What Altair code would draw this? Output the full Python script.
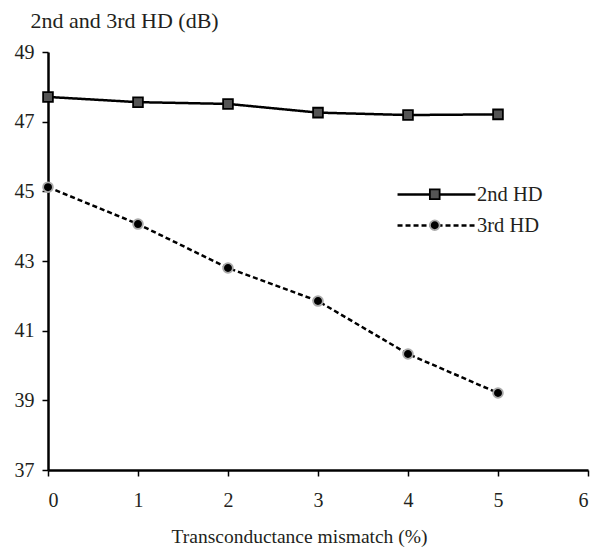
import altair as alt
import pandas as pd

x_vals = [0, 1, 2, 3, 4, 5]
hd2 = [47.71, 47.56, 47.51, 47.26, 47.19, 47.21]
hd3 = [45.12, 44.06, 42.80, 41.85, 40.33, 39.21]
series = ["2nd HD", "3rd HD"]
x_ticks = [0, 1, 2, 3, 4, 5, 6]
y_ticks = [37, 39, 41, 43, 45, 47, 49]

rows = []
for xv, a, b in zip(x_vals, hd2, hd3):
    rows.append({"x": xv, "y": a, "s": series[0], "s2": series[0]})
    rows.append({"x": xv, "y": b, "s": series[1], "s2": series[1]})
df = pd.DataFrame(rows)

FONT = "Liberation Serif, DejaVu Serif, serif"
TXT = "#231f20"

xenc = alt.X("x:Q", scale=alt.Scale(domain=[0, 6], nice=False),
             axis=alt.Axis(title="Transconductance mismatch (%)", values=x_ticks,
                           format="d", grid=False, tickSize=6, labelPadding=14, titlePadding=17,
                           titleX=251,
                           labelFont=FONT, titleFont=FONT, labelFontSize=20, titleFontSize=19.5,
                           labelColor=TXT, titleColor=TXT, titleFontWeight="normal",
                           domainColor="black", domainWidth=2.5, tickColor="black", tickWidth=1.5))
yenc = alt.Y("y:Q", scale=alt.Scale(domain=[37, 49], nice=False, zero=False),
             axis=alt.Axis(title="2nd and 3rd HD (dB)", values=y_ticks,
                           grid=False, tickSize=6, labelPadding=8, titleAngle=0,
                           titleAlign="left", titleAnchor="start", titleX=-18, titleY=-25,
                           titleBaseline="alphabetic",
                           labelFont=FONT, titleFont=FONT, labelFontSize=20, titleFontSize=22,
                           labelColor=TXT, titleColor=TXT, titleFontWeight="normal",
                           domainColor="black", domainWidth=2.5, tickColor="black", tickWidth=1.5))

LX, LY = 378, 132

legend_line = alt.Legend(title=None, orient="none", legendX=LX, legendY=LY, padding=0,
                         symbolSize=324, labelFontSize=20.5, labelFont=FONT, rowPadding=10,
                         labelOffset=30, symbolType="M-4.33,0H4.33", symbolStrokeWidth=2.5,
                         symbolStrokeColor="black", labelColor=TXT)

legend_pts = alt.Legend(title=None, orient="none", legendX=LX - 1.5, legendY=LY, padding=0,
                        symbolSize=95, labelFontSize=20.5, labelFont=FONT, rowPadding=10,
                        symbolStrokeWidth=1.8, labelExpr="''")

line = alt.Chart(df).mark_line(color="black", strokeWidth=2.5).encode(
    x=xenc, y=yenc,
    strokeDash=alt.StrokeDash("s:N", scale=alt.Scale(domain=series, range=[[1, 0], [5, 3]]),
                              legend=legend_line),
)

pts = alt.Chart(df).mark_point(filled=True, size=95, strokeWidth=1.8, opacity=1).encode(
    x="x:Q", y="y:Q",
    shape=alt.Shape("s2:N", scale=alt.Scale(range=["square", "circle"]), legend=legend_pts),
    fill=alt.Fill("s2:N", scale=alt.Scale(range=["#555555", "#000000"]), legend=legend_pts),
    stroke=alt.Stroke("s2:N", scale=alt.Scale(range=["#000000", "#aaaaaa"]), legend=legend_pts),
)

chart = alt.layer(line, pts).properties(
    width=540, height=418,
    autosize=alt.AutoSizeParams(type="none"),
    padding={"left": 48, "top": 52, "right": 9, "bottom": 78},
).configure_view(stroke=None)

chart.save("out.html", embed_options={"renderer": "svg", "actions": False})
